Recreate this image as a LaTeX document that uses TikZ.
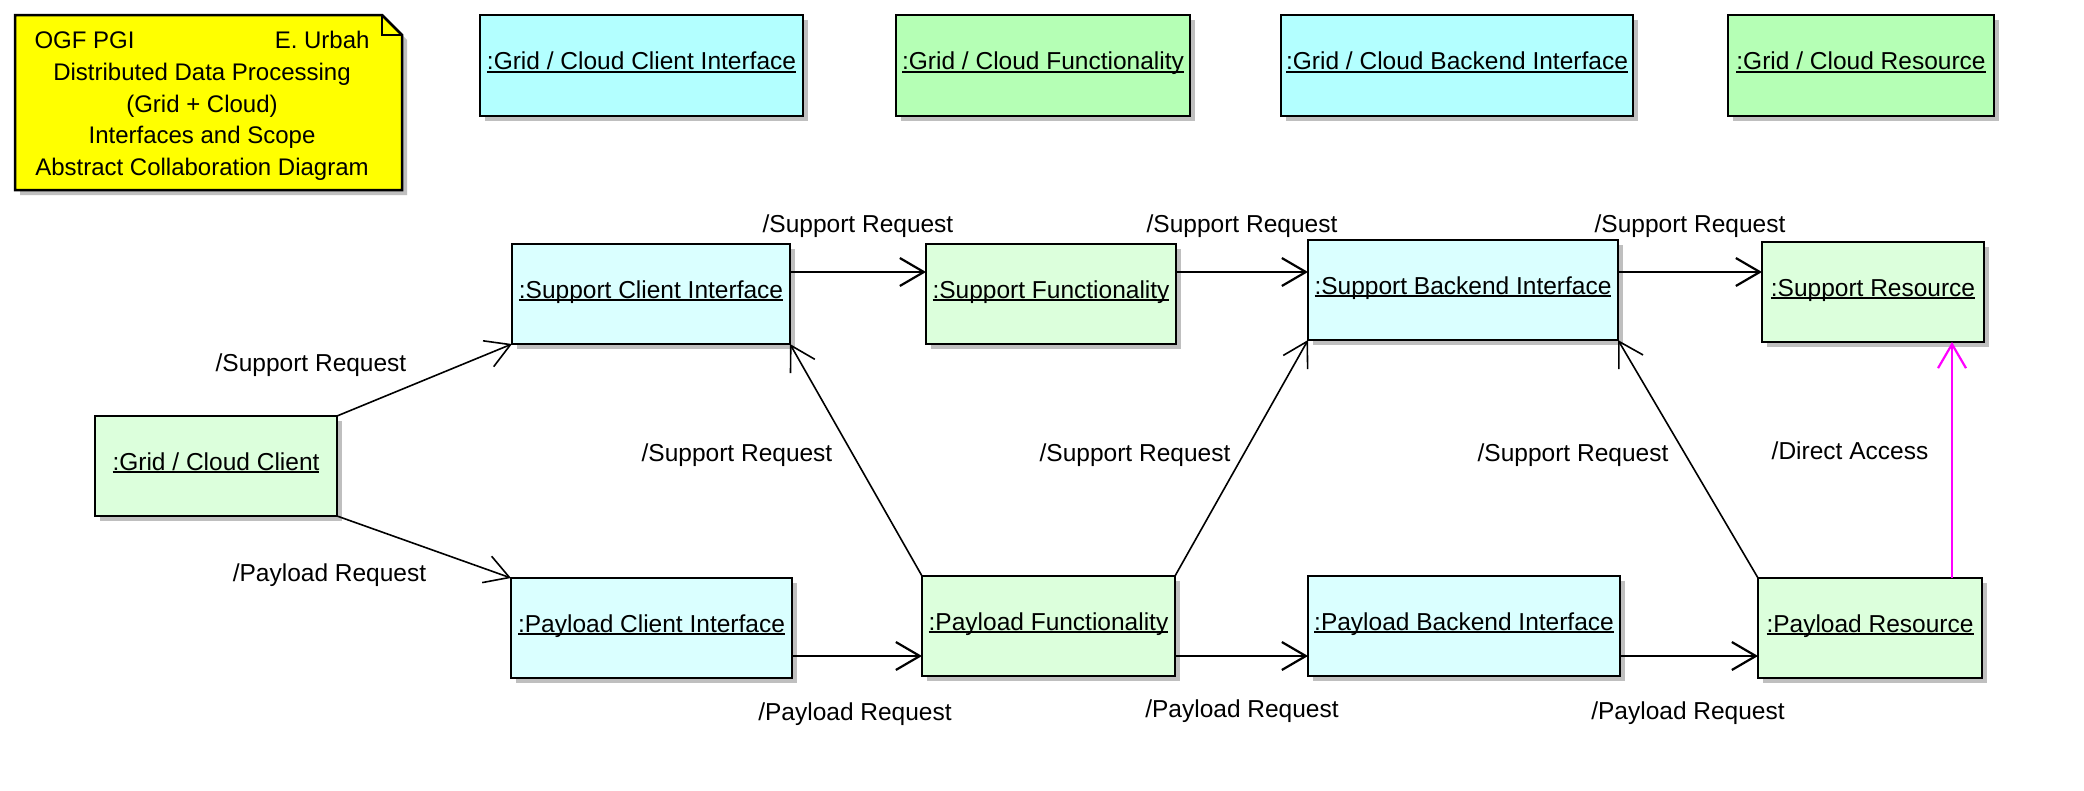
\documentclass[tikz,border=0pt]{standalone}
\usepackage{fontspec}
\setmainfont{Liberation Sans}
\usetikzlibrary{arrows.meta,shadows}
\definecolor{topcyan}{RGB}{179,255,255}
\definecolor{topgreen}{RGB}{181,255,181}
\definecolor{lowcyan}{RGB}{218,255,255}
\definecolor{lowgreen}{RGB}{220,255,220}
\definecolor{notey}{RGB}{255,255,0}
\definecolor{magarrow}{RGB}{255,0,255}
\newcommand{\ulbox}[1]{\setbox0\hbox{#1}\rlap{\rule[-3pt]{\wd0}{1.8pt}}\box0}
\begin{document}
\begin{tikzpicture}[x=1pt,y=-1pt,
  obj/.style={draw, line width=2.5pt, rectangle, inner sep=0pt, outer sep=0pt,
    font=\fontsize{24.5}{30}\selectfont, text height=18pt, text depth=10pt,
    minimum height=100pt,
    drop shadow={shadow xshift=5pt,shadow yshift=-5pt,fill=black!25,opacity=1}},
  lab/.style={font=\fontsize{24.5}{29}\selectfont, inner sep=0pt},
  tip/.style={-{Straight Barb[length=24pt,width=28pt]}},
  darr/.style={tip, line width=1.6pt},
  harr/.style={tip, line width=2.2pt},
  marr/.style={tip, line width=2.2pt, draw=magarrow}]
\useasboundingbox[fill=white] (0,0) rectangle (2084,790);

% note
\fill[black!25] (20,20) -- (387,20) -- (407,40) -- (407,195) -- (20,195) -- cycle;
\draw[line width=2.5pt, fill=notey, line join=miter] (15,15) -- (382,15) -- (402,35) -- (402,190) -- (15,190) -- cycle;
\draw[line width=2pt] (382,15) -- (382,35) -- (402,35);
\node[inner sep=0pt, align=center, font=\fontsize{24}{31.75}\selectfont] (note) at (202,106)
  {\makebox[335pt]{OGF PGI\hfill E. Urbah}\\ Distributed Data Processing\\ (Grid + Cloud)\\ Interfaces and Scope\\ Abstract Collaboration Diagram};

% top legend boxes
\node[obj, fill=topcyan, minimum width=323pt, minimum height=101pt] (gcci) at (641.5,65.5) {\ulbox{:Grid / Cloud Client Interface}};
\node[obj, fill=topgreen, minimum width=294pt, minimum height=101pt] (gcf) at (1043,65.5) {\ulbox{:Grid / Cloud Functionality}};
\node[obj, fill=topcyan, minimum width=352pt, minimum height=101pt] (gcbi) at (1457,65.5) {\ulbox{:Grid / Cloud Backend Interface}};
\node[obj, fill=topgreen, minimum width=266pt, minimum height=101pt] (gcr) at (1861,65.5) {\ulbox{:Grid / Cloud Resource}};

% support row
\node[obj, fill=lowcyan, minimum width=278pt] (sci) at (651,294) {\ulbox{:Support Client Interface}};
\node[obj, fill=lowgreen, minimum width=250pt] (sf) at (1051,294) {\ulbox{:Support Functionality}};
\node[obj, fill=lowcyan, minimum width=310pt] (sbi) at (1463,290) {\ulbox{:Support Backend Interface}};
\node[obj, fill=lowgreen, minimum width=222pt] (sr) at (1873,292) {\ulbox{:Support Resource}};

% client
\node[obj, fill=lowgreen, minimum width=242pt] (gcc) at (216,466) {\ulbox{:Grid / Cloud Client}};

% payload row
\node[obj, fill=lowcyan, minimum width=281pt] (pci) at (651.5,628) {\ulbox{:Payload Client Interface}};
\node[obj, fill=lowgreen, minimum width=253pt] (pf) at (1048.5,626) {\ulbox{:Payload Functionality}};
\node[obj, fill=lowcyan, minimum width=312pt] (pbi) at (1464,626) {\ulbox{:Payload Backend Interface}};
\node[obj, fill=lowgreen, minimum width=224pt] (pr) at (1870,628) {\ulbox{:Payload Resource}};

% diagonal connectors
\draw[darr] (gcc.north east) -- (sci.south west);
\draw[darr] (gcc.south east) -- (pci.north west);
\draw[darr] (pf.north west) -- (sci.south east);
\draw[darr] (pf.north east) -- (sbi.south west);
\draw[darr] (pr.north west) -- (sbi.south east);

% horizontal connectors
\coordinate (h1) at ([yshift=22pt]sci.east);
\coordinate (h2) at ([yshift=22pt]sf.east);
\coordinate (h3) at ([yshift=18pt]sbi.east);
\coordinate (h4) at ([yshift=-28pt]pci.east);
\coordinate (h5) at ([yshift=-30pt]pf.east);
\coordinate (h6) at ([yshift=-30pt]pbi.east);
\draw[harr] (h1) -- (h1 -| sf.west);
\draw[harr] (h2) -- (h2 -| sbi.west);
\draw[harr] (h3) -- (h3 -| sr.west);
\draw[harr] (h4) -- (h4 -| pf.west);
\draw[harr] (h5) -- (h5 -| pbi.west);
\draw[harr] (h6) -- (h6 -| pr.west);

% direct access
\coordinate (m1) at ([xshift=82pt]pr.north);
\draw[marr] (m1) -- (m1 |- sr.south);

% labels
\node[lab] (l1) at (311,365) {/Support Request};
\node[lab] (l2) at (329.5,575) {/Payload Request};
\node[lab] (l3) at (858,226) {/Support Request};
\node[lab] (l4) at (1242,226) {/Support Request};
\node[lab] (l5) at (1690,226) {/Support Request};
\node[lab] (l6) at (737,455) {/Support Request};
\node[lab] (l7) at (1135,455) {/Support Request};
\node[lab] (l8) at (1573,455) {/Support Request};
\node[lab] (l9) at (1850,451) {/Direct Access};
\node[lab] (l10) at (855,714) {/Payload Request};
\node[lab] (l11) at (1242,711) {/Payload Request};
\node[lab] (l12) at (1688,713) {/Payload Request};
\end{tikzpicture}
\end{document}
